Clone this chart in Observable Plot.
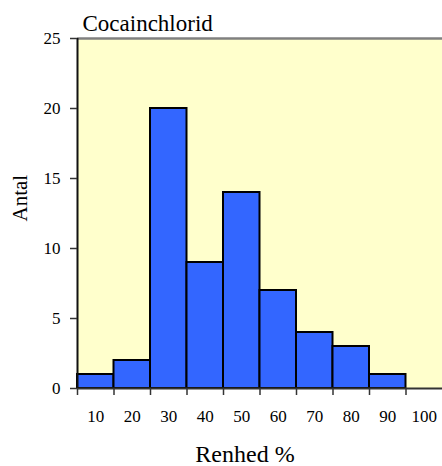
<!DOCTYPE html>
<html>
<head>
<meta charset="utf-8">
<script src="https://cdn.jsdelivr.net/npm/d3@7"></script>
<script src="https://cdn.jsdelivr.net/npm/@observablehq/plot@0.6"></script>
<style>
  html, body { margin: 0; padding: 0; background: #fff; }
  svg text { font-family: 'Liberation Serif', 'DejaVu Serif', serif !important; }
</style>
</head>
<body>
<div id="chart"></div>
<script>
const title = "Cocainchlorid";
const xLabel = "Renhed %";
const yLabel = "Antal";
const binCenters = [10, 20, 30, 40, 50, 60, 70, 80, 90];
const counts = [1, 2, 20, 9, 14, 7, 4, 3, 1];
const binWidth = 10;
const xTickLabels = [10, 20, 30, 40, 50, 60, 70, 80, 90, 100];
const yTicks = [0, 5, 10, 15, 20, 25];

const serif = "'Liberation Serif', 'DejaVu Serif', serif";
const bins = binCenters.map((c, i) => ({x1: c - binWidth / 2, x2: c + binWidth / 2, count: counts[i]}));
const edges = [...binCenters.map(c => c - binWidth / 2), binCenters[binCenters.length - 1] + binWidth / 2];
const xMin = xTickLabels[0] - binWidth / 2;
const xMax = xTickLabels[xTickLabels.length - 1] + binWidth / 2;

const chart = Plot.plot({
  width: 442,
  height: 466,
  marginLeft: 77,
  marginRight: 0,
  marginTop: 38,
  marginBottom: 78,
  style: {fontFamily: serif, background: "#fff", color: "#000"},
  x: {domain: [xMin, xMax], axis: null},
  y: {domain: [0, 25], axis: null},
  marks: [
    Plot.frame({fill: "#FFFFCC", stroke: null}),
    Plot.rectY(bins, {x1: "x1", x2: "x2", y: "count", fill: "#3366FF", stroke: "#000", strokeWidth: 2}),
    Plot.ruleY([25], {stroke: "#808080", strokeWidth: 2.5}),
    Plot.ruleY([0], {stroke: "#333", strokeWidth: 2}),
    Plot.ruleX([xMin], {stroke: "#111", strokeWidth: 2}),
    Plot.axisY({ticks: yTicks, tickSize: 7, tickPadding: 10, fontSize: 17, fontFamily: serif, label: null, stroke: "#333", strokeWidth: 1.5}),
    Plot.axisX({ticks: edges, tickSize: 7, tickFormat: () => "", label: null, stroke: "#333", strokeWidth: 1.5}),
    Plot.axisX({ticks: xTickLabels, tickSize: 0, tickPadding: 21, fontSize: 17, fontFamily: serif, label: null}),
    Plot.text([title], {frameAnchor: "top-left", dx: 5, dy: -8, textAnchor: "start", lineAnchor: "bottom", fontSize: 23, fontFamily: serif, fill: "#000"}),
    Plot.text([xLabel], {frameAnchor: "bottom", dx: -15, dy: 73, lineAnchor: "bottom", fontSize: 24, fontFamily: serif, fill: "#000"}),
    Plot.text([yLabel], {frameAnchor: "left", dx: -57, dy: 8, rotate: -90, fontSize: 21, fontFamily: serif, fill: "#000"})
  ]
});
document.getElementById("chart").appendChild(chart);
</script>
</body>
</html>
